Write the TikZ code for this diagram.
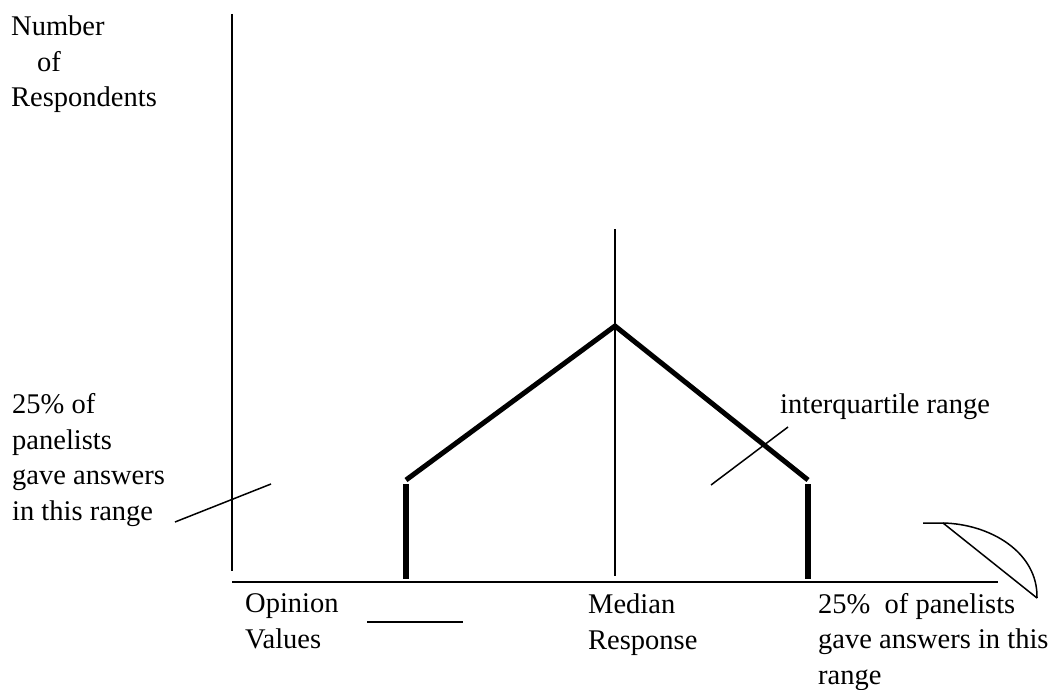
\documentclass[tikz,border=0pt]{standalone}
\usepackage{fontspec}
\setmainfont{Liberation Serif}
\usetikzlibrary{positioning}
\begin{document}
\begin{tikzpicture}[
  x=1pt, y=-1pt,
  font=\fontsize{28.5}{35.5}\selectfont,
  axis/.style={line width=2pt},
  leader/.style={line width=1.5pt},
  quart/.style={line width=5pt},
  lbl/.style={anchor=base west, inner sep=0pt, align=left}
]
\useasboundingbox (0,0) rectangle (1060,690);

% axes
\coordinate (ytop) at (232,14);
\coordinate (ybot) at (232,571);
\coordinate (orig) at (232,582);
\coordinate (xend) at (998,582);
\draw[axis] (ytop) -- (ybot);
\draw[axis] (orig) -- (xend);

% median line and quartile shape
\coordinate (medtop) at (615,229);
\coordinate (medbot) at (615,576);
\coordinate (peak) at (615,326);
\coordinate (lq) at (406,480);
\coordinate (uq) at (808,480);
\coordinate (lqtop) at (406,484);
\coordinate (lqbot) at (406,579);
\coordinate (uqtop) at (808,484);
\coordinate (uqbot) at (808,579);
\draw[axis] (medtop) -- (medbot);
\draw[quart] (lq) -- (peak) -- (uq);
\draw[quart, line width=6pt] (lqtop) -- (lqbot);
\draw[quart, line width=6pt] (uqtop) -- (uqbot);

% labels (anchored at the baseline of the last line)
\node[lbl] (nresp) at (11,107) {Number\\\hspace*{26pt}of\\Respondents};
\node[lbl] (lowrange) at (12,520) {25\% of\\panelists\\gave answers\\in this range};
\node[lbl] (iqr) at (780,413) {interquartile range};
\node[lbl] (opval) at (245,648) {Opinion\\Values};
\node[lbl] (medresp) at (588,649) {Median\\Response};
\node[lbl] (uprange) at (818,684) {25\%~ of panelists\\gave answers in this\\range};

% leader lines
\coordinate (lowa) at (175,522);
\coordinate (lowb) at (271,484);
\coordinate (iqra) at (711,485);
\coordinate (iqrb) at (788,427);
\coordinate (opa) at (367,622);
\coordinate (opb) at (463,622);
\draw[leader] (lowa) -- (lowb);
\draw[leader] (iqra) -- (iqrb);
\draw[leader] (opa) -- (opb);

% upper quarter sketch
\coordinate (ura) at (923,523);
\coordinate (urb) at (943,523);
\coordinate (urc) at (1037,598);
\draw[leader] (ura) -- (urb) -- (urc);
\draw[leader] (urb) .. controls (990,524) and (1038,552) .. (urc);

\end{tikzpicture}
\end{document}
